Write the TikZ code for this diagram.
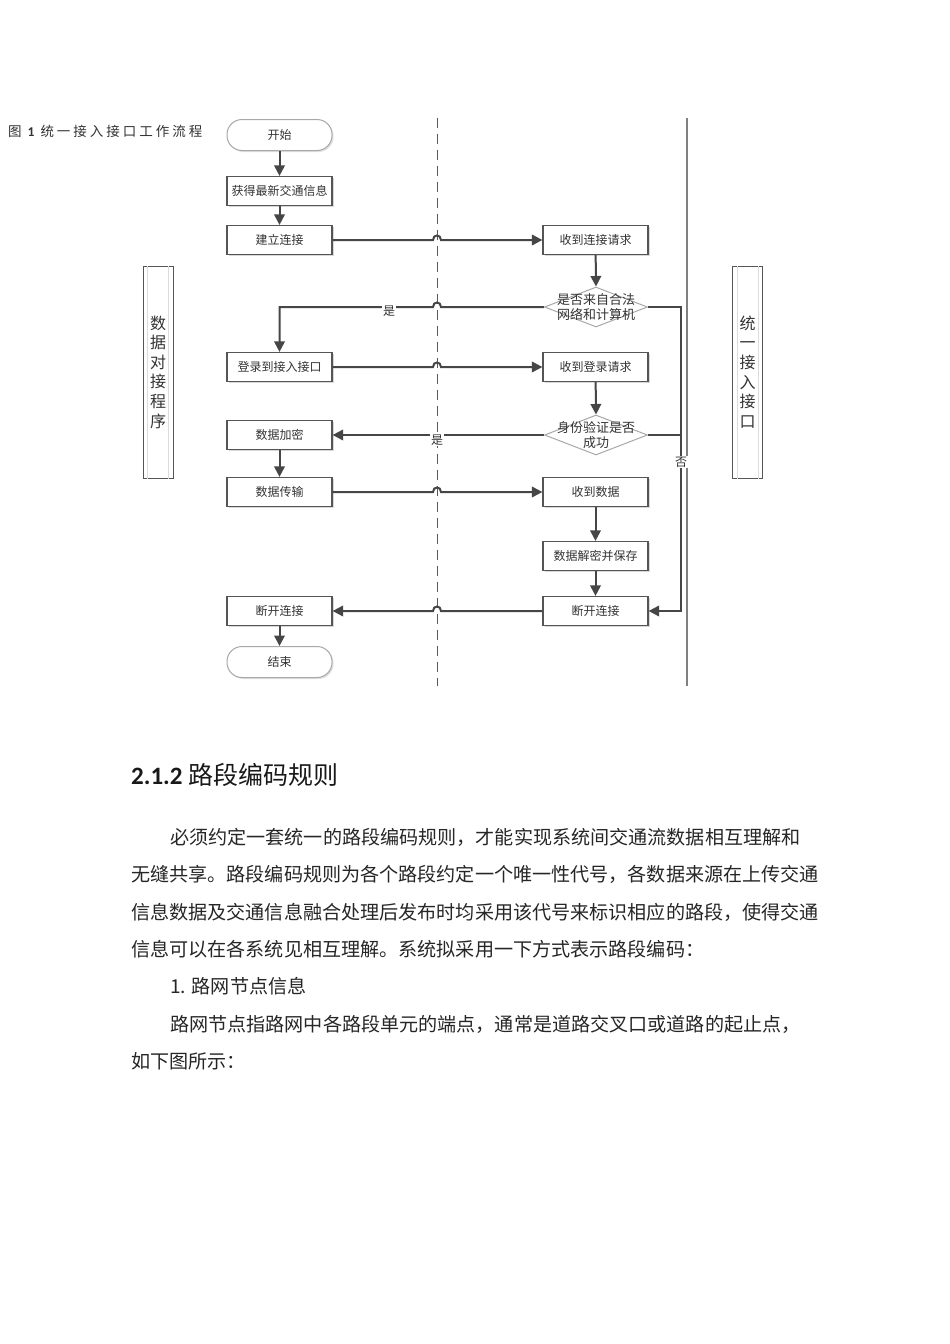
\documentclass[tikz,border=0pt]{standalone}
\usepackage{fontspec}
\setmainfont{Noto Sans CJK SC}
\newfontfamily\capfont[LetterSpace=22]{Noto Sans CJK SC}
\newfontfamily\headfont{Carlito}
\usepackage{tikz}
\usetikzlibrary{arrows.meta,calc,shapes.geometric,shadows}

\definecolor{linegray}{HTML}{464646}
\definecolor{boxgray}{HTML}{555555}
\definecolor{softgray}{HTML}{A8A8A8}
\definecolor{textgray}{HTML}{333333}

\tikzset{
  procbox/.style={draw=boxgray, line width=1.2pt, fill=white, minimum width=105pt, minimum height=29pt,
    inner sep=0pt, text=textgray, font=\fontsize{12}{14}\selectfont,
    drop shadow={shadow xshift=1.5pt, shadow yshift=-1.5pt, fill=black!30, opacity=0.5}},
  termbox/.style={draw=softgray, line width=1pt, fill=white, rounded corners=15pt, minimum width=105pt,
    minimum height=31pt, inner sep=0pt, text=textgray, font=\fontsize{12}{14}\selectfont,
    drop shadow={shadow xshift=1.5pt, shadow yshift=-1.5pt, fill=black!30, opacity=0.4}},
  decision/.style={diamond, draw=softgray, line width=1pt, fill=white, minimum width=103pt,
    minimum height=40pt, inner sep=0pt},
  dtext/.style={align=center, inner sep=0pt, text=textgray, font=\fontsize{13}{15}\selectfont},
  flow/.style={draw=linegray, line width=2pt, -{Triangle[length=10.5pt,width=10.5pt]}},
  link/.style={draw=linegray, line width=2pt},
  yesno/.style={fill=white, inner sep=1pt, text=textgray, font=\fontsize{12}{14}\selectfont},
  lanebox/.style={draw=boxgray, line width=1pt, minimum width=30pt, minimum height=212pt, align=center,
    inner sep=0pt, text=textgray, font=\fontsize{16}{19.6}\selectfont},
  laneline/.style={draw=softgray!40, line width=0.5pt},
  bodytext/.style={anchor=base west, inner sep=0pt, text=black!85, font=\fontsize{19.1}{22}\selectfont},
}

\newcommand{\hopr}[1]{-- ($(#1)+(-4,0)$) .. controls ($(#1)+(-4,-6)$) and ($(#1)+(4,-6)$) .. ($(#1)+(4,0)$)}
\newcommand{\hopl}[1]{-- ($(#1)+(4,0)$) .. controls ($(#1)+(4,-6)$) and ($(#1)+(-4,-6)$) .. ($(#1)+(-4,0)$)}

\begin{document}
\begin{tikzpicture}[x=1pt, y=-1pt]
\fill[white] (0,0) rectangle (950,1344);
\useasboundingbox (0,0) rectangle (950,1344);

\node[anchor=west, inner sep=0pt, text=textgray, font=\fontsize{13.5}{16}\selectfont\capfont] (caption) at (8,131)
  {图 {\headfont\bfseries 1} 统一接入接口工作流程};

\coordinate (dash1) at (437,118);
\coordinate (dash2) at (437,686);
\coordinate (wall1) at (687,118);
\coordinate (wall2) at (687,686);
\coordinate (ret) at (681,300);
\draw[black!65, line width=1pt, dash pattern=on 10pt off 6pt] (dash1) -- (dash2);
\draw[black!50, line width=1.3pt] (wall1) -- (wall2);

\node[lanebox] (lanel) at (158,372) {数\\据\\对\\接\\程\\序};
\node[lanebox] (laner) at (747.5,372) {统\\一\\接\\入\\接\\口};
\draw[laneline] ($(lanel.north west)+(5,0)$) -- ($(lanel.south west)+(5,0)$);
\draw[laneline] ($(lanel.north east)+(-5,0)$) -- ($(lanel.south east)+(-5,0)$);
\draw[laneline] ($(laner.north west)+(5,0)$) -- ($(laner.south west)+(5,0)$);
\draw[laneline] ($(laner.north east)+(-5,0)$) -- ($(laner.south east)+(-5,0)$);

\node[termbox] (start) at (279.5,135) {开始};
\node[procbox] (getinfo) at (279.5,191) {获得最新交通信息};
\node[procbox] (connect) at (279.5,240) {建立连接};
\node[procbox] (recvconn) at (595.5,240) {收到连接请求};
\node[decision, label={[dtext]center:是否来自合法\\网络和计算机}] (check1) at (596,307) {};
\node[procbox] (login) at (279.5,367) {登录到接入接口};
\node[procbox] (recvlogin) at (595.5,367) {收到登录请求};
\node[decision, label={[dtext]center:身份验证是否\\成功}] (check2) at (596,435) {};
\node[procbox] (encrypt) at (279.5,435) {数据加密};
\node[procbox] (send) at (279.5,492) {数据传输};
\node[procbox] (recvdata) at (595.5,492) {收到数据};
\node[procbox] (decrypt) at (595.5,556) {数据解密并保存};
\node[procbox] (closer) at (595.5,611) {断开连接};
\node[procbox] (closel) at (279.5,611) {断开连接};
\node[termbox] (stop) at (279.5,662) {结束};

\draw[flow] (start) -- (getinfo);
\draw[flow] (getinfo) -- (connect);
\draw[flow] (connect.east) \hopr{connect.east -| dash1} -- (recvconn.west);
\draw[flow] (recvconn) -- (check1.north);
\draw[flow] (check1.west) \hopl{check1.west -| dash1} -| (login.north);
\draw[flow] (login.east) \hopr{login.east -| dash1} -- (recvlogin.west);
\draw[flow] (recvlogin) -- (check2.north);
\draw[flow] (check2.west) -- (encrypt.east);
\draw[flow] (encrypt) -- (send);
\draw[flow] (send.east) \hopr{send.east -| dash1} -- (recvdata.west);
\draw[flow] (recvdata) -- (decrypt);
\draw[flow] (decrypt) -- (closer);
\draw[flow] (check1.east) -- (check1.east -| ret) |- (closer.east);
\draw[link] (check2.east) -- (check2.east -| ret);
\draw[flow] (closer.west) \hopl{closer.west -| dash1} -- (closel.east);
\draw[flow] (closel) -- (stop);

\node[yesno] (yes1) at (389,311) {是};
\node[yesno] (yes2) at (437,440) {是};
\node[yesno] (no1) at (681,462) {否};

\node[anchor=base west, inner sep=0pt, text=black!90, font=\fontsize{25}{30}\selectfont] (heading) at (131,784)
  {{\headfont\bfseries 2.1.2} 路段编码规则};

\node[bodytext] (para1) at (170,844) {必须约定一套统一的路段编码规则，才能实现系统间交通流数据相互理解和};
\node[bodytext] (para2) at (131,881) {无缝共享。路段编码规则为各个路段约定一个唯一性代号，各数据来源在上传交通};
\node[bodytext] (para3) at (131,919) {信息数据及交通信息融合处理后发布时均采用该代号来标识相应的路段，使得交通};
\node[bodytext] (para4) at (131,956) {信息可以在各系统见相互理解。系统拟采用一下方式表示路段编码：};
\node[bodytext] (para5) at (170,993) {1. 路网节点信息};
\node[bodytext] (para6) at (170,1031) {路网节点指路网中各路段单元的端点，通常是道路交叉口或道路的起止点，};
\node[bodytext] (para7) at (131,1068) {如下图所示：};
\end{tikzpicture}
\end{document}
